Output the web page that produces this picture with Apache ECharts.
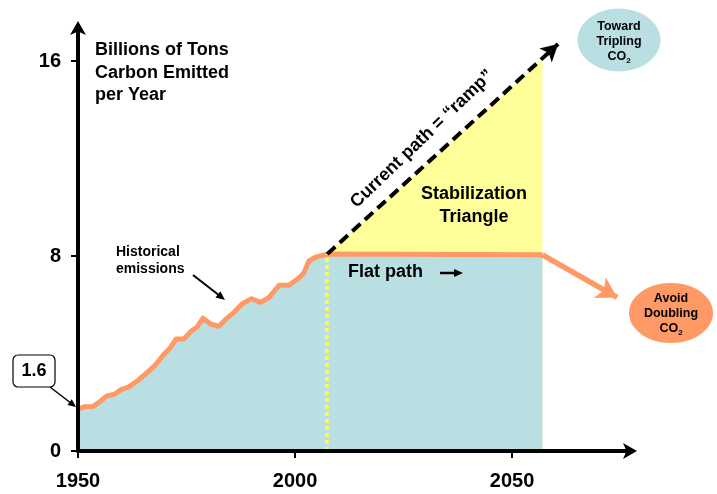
<!DOCTYPE html>
<html><head><meta charset="utf-8">
<script src="https://cdn.jsdelivr.net/npm/echarts@6/dist/echarts.min.js"></script>
<style>html,body{margin:0;padding:0;background:#fff}#c{width:717px;height:494px}</style>
</head><body><div id="c"></div>
<script>
// ---- data ----
const histYears = [1950, 1951.5, 1953.5, 1955, 1956.6, 1958.4, 1960, 1961.6, 1963.5, 1965.8, 1967.7, 1969.7, 1971.2, 1972.6, 1974.4, 1976, 1977.5, 1978.8, 1980.6, 1982.5, 1984, 1986, 1987.9, 1990, 1992.1, 1994, 1996.3, 1998.6, 2000.9, 2002, 2003.2, 2004.7, 2007.4];
const histValues = [1.72, 1.82, 1.83, 2.02, 2.25, 2.33, 2.53, 2.62, 2.85, 3.2, 3.5, 3.95, 4.22, 4.6, 4.6, 4.9, 5.1, 5.45, 5.2, 5.12, 5.4, 5.7, 6.05, 6.25, 6.1, 6.3, 6.8, 6.8, 7.1, 7.3, 7.8, 7.95, 8.08];
const flatYears = [2007.4, 2057];
const flatValues = [8.05, 8.05];
const rampYears = [2007.4, 2057];
const rampValues = [8.08, 16.06];
const rampArrowEnd = [2060.6, 16.7];
const doublingArrowEnd = [2074.2, 6.3];
const nowYear = 2007.4;
const xTicks = [1950, 2000, 2050];
const yTicks = [0, 8, 16];

const FONT = '"Liberation Sans", Arial, sans-serif';
const ORANGE = '#FF9A66';
const TEAL = '#BADFE3';
const YELLOW = '#FFFF99';

const zip = (a, b) => a.map((v, i) => [v, b[i]]);
const mainLine = zip(histYears, histValues).concat(zip(flatYears, flatValues).slice(1));

function arrow(x1, y1, x2, y2, w, hl, hw, color) {
  const dx = x2 - x1, dy = y2 - y1, L = Math.hypot(dx, dy);
  const ux = dx / L, uy = dy / L, px = -uy, py = ux;
  const bx = x2 - ux * hl, by = y2 - uy * hl;
  return [
    { type: 'line', shape: { x1, y1, x2: bx + ux, y2: by + uy }, style: { stroke: color, lineWidth: w }, z: 50 },
    { type: 'polygon', shape: { points: [[x2, y2], [bx + px * hw / 2, by + py * hw / 2], [bx - px * hw / 2, by - py * hw / 2]] }, style: { fill: color }, z: 50 }
  ];
}

const dotStyle = { color: '#FFFF55', width: 3.5, type: [4, 3] };
const rampStyle = { color: '#000', width: 4, type: [11, 6] };
const orangeStyle = { color: ORANGE, width: 5.5, type: 'solid' };

const chart = echarts.init(document.getElementById('c'));
const option = {
  animation: false,
  backgroundColor: '#fff',
  grid: { left: 78, right: 86, top: 27, bottom: 43 },
  xAxis: {
    type: 'value', min: 1950, max: 2077.4, interval: 50, z: 20,
    splitLine: { show: false },
    axisLine: { lineStyle: { color: '#000', width: 4 }, symbol: ['none', 'arrow'], symbolSize: [12, 14], symbolOffset: [0, 6] },
    axisTick: { customValues: xTicks, length: 7, lineStyle: { color: '#000', width: 2 } },
    axisLabel: { customValues: xTicks, formatter: v => String(v), margin: 20, color: '#000', fontFamily: FONT, fontWeight: 'bold', fontSize: 20 }
  },
  yAxis: {
    type: 'value', min: 0, max: 17.4, interval: 8, z: 20,
    splitLine: { show: false },
    axisLine: { lineStyle: { color: '#000', width: 4 }, symbol: ['none', 'arrow'], symbolSize: [12, 14], symbolOffset: [0, 6] },
    axisTick: { customValues: yTicks, length: 7, lineStyle: { color: '#000', width: 2 } },
    axisLabel: { customValues: yTicks, formatter: v => String(v), margin: 17, color: '#000', fontFamily: FONT, fontWeight: 'bold', fontSize: 20 }
  },
  series: [
    {
      type: 'line', data: zip(rampYears, rampValues), symbol: 'none', z: 1,
      lineStyle: { width: 0 }, areaStyle: { color: YELLOW, opacity: 1 }
    },
    {
      type: 'line', data: mainLine, symbol: 'none', z: 3,
      lineStyle: { color: ORANGE, width: 5, join: 'round' },
      areaStyle: { color: TEAL, opacity: 1 },
      markLine: {
        silent: true, animation: false, label: { show: false }, emphasis: { disabled: true },
        data: [
          [{ coord: [nowYear, 0], symbol: 'none', lineStyle: dotStyle },
           { coord: [nowYear, histValues[histValues.length - 1]], symbol: 'none', lineStyle: dotStyle }],
          [{ coord: [rampYears[0], rampValues[0]], symbol: 'none', lineStyle: rampStyle },
           { coord: rampArrowEnd, symbol: 'arrow', symbolSize: [14, 17], lineStyle: rampStyle }],
          [{ coord: [flatYears[1], flatValues[1]], symbol: 'none', lineStyle: orangeStyle },
           { coord: doublingArrowEnd, symbol: 'arrow', symbolSize: [18, 20], lineStyle: orangeStyle }]
        ]
      }
    }
  ],
  graphic: [
    { type: 'text', left: 95, top: 39, z: 60, style: { text: 'Billions of Tons\nCarbon Emitted\nper Year', font: 'bold 18px ' + FONT, lineHeight: 22.5, fill: '#000' } },
    { type: 'text', left: 116, top: 244, z: 60, style: { text: 'Historical\nemissions', font: 'bold 14px ' + FONT, lineHeight: 17, fill: '#000' } },
    { type: 'rect', shape: { x: 13, y: 355, width: 42, height: 32, r: 5 }, style: { fill: '#fff', stroke: '#000', lineWidth: 1.2 }, z: 60 },
    { type: 'text', x: 34, y: 371, z: 61, style: { text: '1.6', font: 'bold 18px ' + FONT, fill: '#000', align: 'center', verticalAlign: 'middle' } },
    { type: 'text', x: 474, y: 206, z: 60, style: { text: 'Stabilization\nTriangle', font: 'bold 18px ' + FONT, lineHeight: 23, fill: '#000', align: 'center', verticalAlign: 'middle' } },
    { type: 'text', x: 348, y: 272, z: 60, style: { text: 'Flat path', font: 'bold 18px ' + FONT, fill: '#000', align: 'left', verticalAlign: 'middle' } },
    { type: 'text', x: 422, y: 139, rotation: 0.765, z: 60, style: { text: 'Current path = \u201Cramp\u201D', font: 'bold 18px ' + FONT, fill: '#000', align: 'center', verticalAlign: 'middle' } },
    { type: 'ellipse', shape: { cx: 619, cy: 40, rx: 41.5, ry: 31.5 }, style: { fill: TEAL }, z: 55 },
    { type: 'text', x: 619, y: 42, z: 60, style: { text: 'Toward\nTripling\n{n|CO}{s|2}', font: 'bold 12.5px ' + FONT, lineHeight: 15, fill: '#000', align: 'center', verticalAlign: 'middle',
      rich: { n: { font: 'bold 12.5px ' + FONT, lineHeight: 15 }, s: { font: 'bold 8px ' + FONT, lineHeight: 15, verticalAlign: 'bottom', padding: [5, 0, 0, 0] } } } },
    { type: 'ellipse', shape: { cx: 671, cy: 313, rx: 42, ry: 30 }, style: { fill: ORANGE }, z: 55 },
    { type: 'text', x: 671, y: 314, z: 60, style: { text: 'Avoid\nDoubling\n{n|CO}{s|2}', font: 'bold 12.5px ' + FONT, lineHeight: 15, fill: '#000', align: 'center', verticalAlign: 'middle',
      rich: { n: { font: 'bold 12.5px ' + FONT, lineHeight: 15 }, s: { font: 'bold 8px ' + FONT, lineHeight: 15, verticalAlign: 'bottom', padding: [5, 0, 0, 0] } } } }
  ].concat(arrow(50, 387, 76, 407, 1.5, 8, 7, '#000'))
   .concat(arrow(193, 275, 225, 300, 2, 9, 8, '#000'))
   .concat(arrow(440, 273, 463, 273, 2.5, 9, 8, '#000'))
};
chart.setOption(option);
</script>
</body></html>
